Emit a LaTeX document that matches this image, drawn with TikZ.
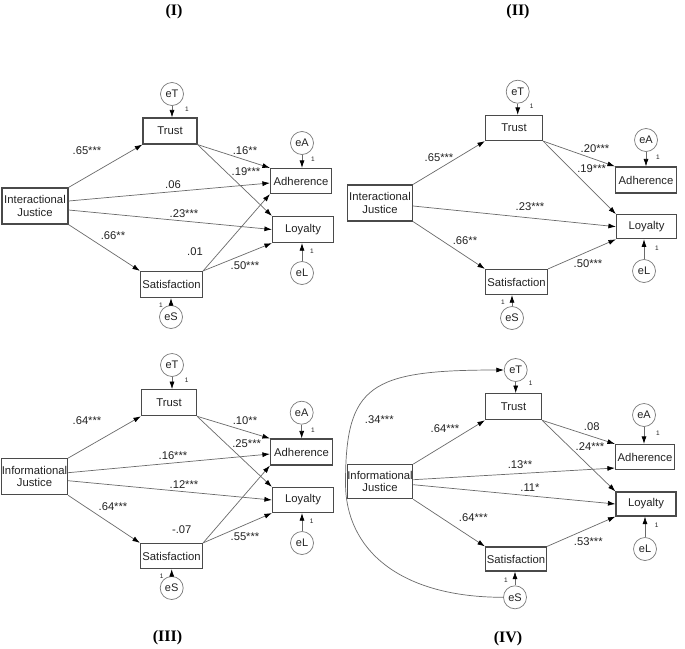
\documentclass[tikz,border=0pt]{standalone}
\usepackage{fontspec}
\setmainfont{Liberation Sans}
\newfontfamily\ttlfont{Liberation Serif}
\usetikzlibrary{arrows.meta}
\definecolor{boxc}{HTML}{4A4A4A}
\definecolor{arrc}{HTML}{6A6A6A}
\definecolor{cirx}{HTML}{7A7A7A}
\definecolor{txtc}{HTML}{222222}
\begin{document}
\begin{tikzpicture}[x=1pt,y=-1pt,
  box/.style={draw=boxc,line width=1.2pt,fill=white,inner sep=0pt,align=center,text=txtc,font=\fontsize{11.3}{12.5}\selectfont},
  err/.style={circle,draw=cirx,line width=0.7pt,fill=white,minimum size=23pt,inner sep=0pt,text=txtc,font=\fontsize{11}{12}\selectfont},
  arr/.style={draw=arrc,line width=0.7pt,-{Latex[length=7.5pt,width=5pt,color=black]}},
  lab/.style={inner sep=0pt,text=txtc,font=\fontsize{11.2}{12}\selectfont},
  one/.style={inner sep=0pt,text=txtc,font=\fontsize{6.5}{7}\selectfont},
  ttl/.style={inner sep=0pt,font=\ttlfont\bfseries\fontsize{16}{18}\selectfont}]
\useasboundingbox[fill=white] (0,0) rectangle (685,648);

% ---------- titles
\node[ttl] (t1) at (174,12) {(I)};
\node[ttl] (t2) at (518,12) {(II)};
\node[ttl] (t3) at (167.5,638) {(III)};
\node[ttl] (t4) at (508,639) {(IV)};

% ================= Panel I
\node[box,minimum width=66pt,minimum height=36pt] (aIJ) at (35,206) {Interactional\\Justice};
\node[box,minimum width=54pt,minimum height=26pt] (aT) at (170,131) {Trust};
\node[box,minimum width=61pt,minimum height=25pt] (aA) at (301,181) {Adherence};
\node[box,minimum width=61pt,minimum height=26pt] (aL) at (303,229.5) {Loyalty};
\node[box,minimum width=62pt,minimum height=26pt] (aS) at (171.5,284.5) {Satisfaction};
\node[err] (aeT) at (172,94) {eT};
\node[err] (aeA) at (302,143) {eA};
\node[err] (aeL) at (302,273) {eL};
\node[err] (aeS) at (171,317) {eS};
\draw[arr] (aeT.south) -- (aeT.south |- aT.north);
\draw[arr] (aeA.south) -- (aeA.south |- aA.north);
\draw[arr] (aeL.north) -- (aeL.north |- aL.south);
\draw[arr] (aeS.north) -- (aeS.north |- aS.south);
\draw[arr] (aIJ.north east) -- (aT.south west);
\draw[arr] ([yshift=5pt]aIJ.east) -- ([yshift=-2pt]aA.west);
\draw[arr] ([yshift=-4pt]aIJ.east) -- (aL.west);
\draw[arr] (aIJ.south east) -- (aS.north west);
\draw[arr] (aT.south east) -- (aA.north west);
\draw[arr] (aT.south east) -- (aL.north west);
\draw[arr] (aS.north east) -- (aA.south west);
\draw[arr] (aS.north east) -- (aL.south west);
\node[one] (a1T) at (187,109) {1};
\node[one] (a1A) at (313,159) {1};
\node[one] (a1L) at (312,251) {1};
\node[one] (a1S) at (161,305) {1};
\node[lab] (al1) at (87,151) {.65***};
\node[lab] (al2) at (245,151) {.16**};
\node[lab] (al3) at (246,172) {.19***};
\node[lab] (al4) at (173,185) {.06};
\node[lab] (al5) at (184,214) {.23***};
\node[lab] (al6) at (113,236) {.66**};
\node[lab] (al7) at (195,252) {.01};
\node[lab] (al8) at (245,266) {.50***};

% ================= Panel II
\node[box,minimum width=65pt,minimum height=36pt] (bIJ) at (380,203) {Interactional\\Justice};
\node[box,minimum width=57pt,minimum height=25pt] (bT) at (514,128) {Trust};
\node[box,minimum width=61pt,minimum height=26pt] (bA) at (646,180) {Adherence};
\node[box,minimum width=60pt,minimum height=24pt] (bL) at (646.5,226.7) {Loyalty};
\node[box,minimum width=62pt,minimum height=25pt] (bS) at (516.5,282) {Satisfaction};
\node[err] (beT) at (517.7,91.7) {eT};
\node[err] (beA) at (646,140) {eA};
\node[err] (beL) at (644,271) {eL};
\node[err] (beS) at (512,318) {eS};
\draw[arr] (beT.south) -- (beT.south |- bT.north);
\draw[arr] (beA.south) -- (beA.south |- bA.north);
\draw[arr] (beL.north) -- (beL.north |- bL.south);
\draw[arr] (beS.north) -- (beS.north |- bS.south);
\draw[arr] (bIJ.north east) -- (bT.south west);
\draw[arr] ([yshift=-3pt]bIJ.east) -- (bL.west);
\draw[arr] (bIJ.south east) -- (bS.north west);
\draw[arr] (bT.south east) -- (bA.north west);
\draw[arr] (bT.south east) -- (bL.north west);
\draw[arr] (bS.north east) -- (bL.south west);
\node[one] (b1T) at (531.7,106) {1};
\node[one] (b1A) at (658,157) {1};
\node[one] (b1L) at (657,248) {1};
\node[one] (b1S) at (503,302) {1};
\node[lab] (bl1) at (439,158) {.65***};
\node[lab] (bl2) at (595,149) {.20***};
\node[lab] (bl3) at (591.7,169) {.19***};
\node[lab] (bl4) at (530,207) {.23***};
\node[lab] (bl5) at (465,240.7) {.66**};
\node[lab] (bl6) at (588,264) {.50***};

% ================= Panel III
\node[box,minimum width=66pt,minimum height=36pt] (cIJ) at (34.5,476.7) {Informational\\Justice};
\node[box,minimum width=55pt,minimum height=26pt] (cT) at (169,402.7) {Trust};
\node[box,minimum width=62pt,minimum height=26pt] (cA) at (301.5,452) {Adherence};
\node[box,minimum width=61pt,minimum height=25pt] (cL) at (303,500) {Loyalty};
\node[box,minimum width=62pt,minimum height=25pt] (cS) at (171.5,556) {Satisfaction};
\node[err] (ceT) at (172,365) {eT};
\node[err] (ceA) at (301.7,412.7) {eA};
\node[err] (ceL) at (302,543) {eL};
\node[err] (ceS) at (171.7,588) {eS};
\draw[arr] (ceT.south) -- (ceT.south |- cT.north);
\draw[arr] (ceA.south) -- (ceA.south |- cA.north);
\draw[arr] (ceL.north) -- (ceL.north |- cL.south);
\draw[arr] (ceS.north) -- (ceS.north |- cS.south);
\draw[arr] (cIJ.north east) -- (cT.south west);
\draw[arr] ([yshift=4pt]cIJ.east) -- ([yshift=-2pt]cA.west);
\draw[arr] ([yshift=-4pt]cIJ.east) -- (cL.west);
\draw[arr] (cIJ.south east) -- (cS.north west);
\draw[arr] (cT.south east) -- (cA.north west);
\draw[arr] (cT.south east) -- (cL.north west);
\draw[arr] (cS.north east) -- (cA.south west);
\draw[arr] (cS.north east) -- (cL.south west);
\node[one] (c1T) at (186.7,380.7) {1};
\node[one] (c1A) at (313,430.7) {1};
\node[one] (c1L) at (311.7,521.7) {1};
\node[one] (c1S) at (161.7,576.7) {1};
\node[lab] (cl1) at (87,420.7) {.64***};
\node[lab] (cl2) at (245,421) {.10**};
\node[lab] (cl3) at (246.7,443.3) {.25***};
\node[lab] (cl4) at (173,456) {.16***};
\node[lab] (cl5) at (184,485) {.12***};
\node[lab] (cl6) at (113,506.7) {.64***};
\node[lab] (cl7) at (181.7,530) {-.07};
\node[lab] (cl8) at (245,536.7) {.55***};

% ================= Panel IV
\node[box,minimum width=65pt,minimum height=34pt] (dIJ) at (380,481.7) {Informational\\Justice};
\node[box,minimum width=56pt,minimum height=26pt] (dT) at (513.5,406.7) {Trust};
\node[box,minimum width=59pt,minimum height=25pt] (dA) at (645,457) {Adherence};
\node[box,minimum width=60pt,minimum height=24pt] (dL) at (646,504) {Loyalty};
\node[box,minimum width=61pt,minimum height=24pt] (dS) at (516,559) {Satisfaction};
\node[err] (deT) at (515.7,370) {eT};
\node[err] (deA) at (644,415) {eA};
\node[err] (deL) at (645,549) {eL};
\node[err] (deS) at (515,597.3) {eS};
\draw[arr] (deT.south) -- (deT.south |- dT.north);
\draw[arr] (deA.south) -- (deA.south |- dA.north);
\draw[arr] (deL.north) -- (deL.north |- dL.south);
\draw[arr] (deS.north) -- (deS.north |- dS.south);
\draw[arr] (dIJ.north east) -- (dT.south west);
\draw[arr] ([yshift=2pt]dIJ.east) -- ([yshift=-11pt]dA.west);
\draw[arr] ([yshift=-3pt]dIJ.east) -- (dL.west);
\draw[arr] (dIJ.south east) -- (dS.north west);
\draw[arr] (dT.south east) -- (dA.north west);
\draw[arr] (dT.south east) -- (dL.north west);
\draw[arr] (dS.north east) -- (dL.south west);
\draw[arr] (deS.west) .. controls (400,597.3) and (345.5,550) .. (345.5,483)
   .. controls (345.5,385) and (370,370) .. (deT.west);
\node[one] (d1T) at (530.7,383) {1};
\node[one] (d1A) at (658,433) {1};
\node[one] (d1L) at (656.7,525) {1};
\node[one] (d1S) at (506,580) {1};
\node[lab] (dl0) at (379.3,420) {.34***};
\node[lab] (dl1) at (445,429) {.64***};
\node[lab] (dl2) at (591.7,427) {.08};
\node[lab] (dl3) at (590,446.7) {.24***};
\node[lab] (dl4) at (520,465) {.13**};
\node[lab] (dl5) at (530,487.3) {.11*};
\node[lab] (dl6) at (473.3,517.3) {.64***};
\node[lab] (dl7) at (588.3,541.7) {.53***};
\end{tikzpicture}
\end{document}
